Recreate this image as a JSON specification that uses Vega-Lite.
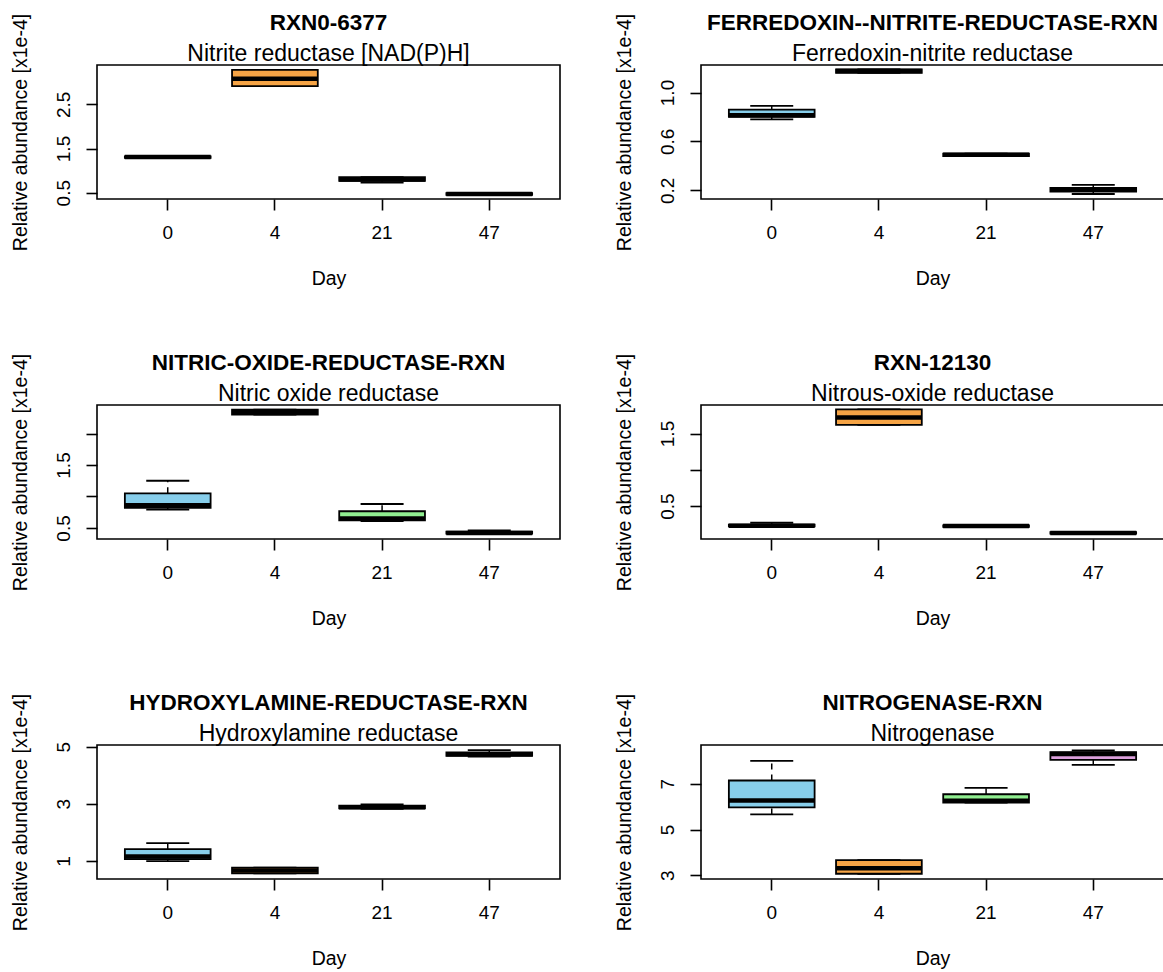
{
  "$schema": "https://vega.github.io/schema/vega-lite/v6.json",
  "background": "white",
  "padding": {"left": 9, "top": 10, "right": 0, "bottom": 0},
  "columns": 2,
  "spacing": {"row": 61, "column": 52},
  "config": {
    "font": "Liberation Sans",
    "view": {"stroke": "black", "strokeWidth": 1.6},
    "axis": {
      "domain": false, "grid": false, "ticks": true, "tickColor": "black", "tickWidth": 1.6, "tickSize": 11,
      "labelFont": "Liberation Sans", "labelFontSize": 19, "labelColor": "black", "labelOverlap": false, "labelBound": false,
      "titleFont": "Liberation Sans", "titleFontSize": 19.5, "titleFontWeight": "normal", "titleColor": "black"
    },
    "axisX": {"labelAngle": 0, "labelPadding": 13, "titlePadding": 27},
    "axisY": {"labelAngle": -90, "labelPadding": 13, "titlePadding": 24},
    "title": {"font": "Liberation Sans", "fontSize": 22.5, "fontWeight": "bold", "color": "black", "subtitleFont": "Liberation Sans", "subtitleFontSize": 23, "subtitleColor": "black", "anchor": "middle", "frame": "group", "offset": -53, "subtitlePadding": 9}
  },
  "data": {"values": [
    {"panel": "A", "day": 0, "lower": 1.28, "q1": 1.29, "median": 1.305, "q3": 1.32, "upper": 1.33},
    {"panel": "A", "day": 4, "lower": 2.91, "q1": 2.91, "median": 3.08, "q3": 3.28, "upper": 3.28},
    {"panel": "A", "day": 21, "lower": 0.73, "q1": 0.77, "median": 0.80, "q3": 0.85, "upper": 0.85},
    {"panel": "A", "day": 47, "lower": 0.45, "q1": 0.45, "median": 0.47, "q3": 0.49, "upper": 0.49},
    {"panel": "B", "day": 0, "lower": 0.78, "q1": 0.80, "median": 0.815, "q3": 0.86, "upper": 0.89},
    {"panel": "B", "day": 4, "lower": 1.16, "q1": 1.16, "median": 1.175, "q3": 1.19, "upper": 1.19},
    {"panel": "B", "day": 21, "lower": 0.48, "q1": 0.48, "median": 0.49, "q3": 0.50, "upper": 0.50},
    {"panel": "B", "day": 47, "lower": 0.17, "q1": 0.19, "median": 0.205, "q3": 0.22, "upper": 0.245},
    {"panel": "C", "day": 0, "lower": 0.79, "q1": 0.82, "median": 0.86, "q3": 1.05, "upper": 1.25},
    {"panel": "C", "day": 4, "lower": 2.30, "q1": 2.30, "median": 2.34, "q3": 2.38, "upper": 2.38},
    {"panel": "C", "day": 21, "lower": 0.61, "q1": 0.62, "median": 0.65, "q3": 0.765, "upper": 0.88},
    {"panel": "C", "day": 47, "lower": 0.40, "q1": 0.41, "median": 0.42, "q3": 0.44, "upper": 0.46},
    {"panel": "D", "day": 0, "lower": 0.21, "q1": 0.22, "median": 0.23, "q3": 0.245, "upper": 0.27},
    {"panel": "D", "day": 4, "lower": 1.62, "q1": 1.62, "median": 1.72, "q3": 1.833, "upper": 1.833},
    {"panel": "D", "day": 21, "lower": 0.21, "q1": 0.215, "median": 0.225, "q3": 0.235, "upper": 0.235},
    {"panel": "D", "day": 47, "lower": 0.115, "q1": 0.12, "median": 0.13, "q3": 0.14, "upper": 0.14},
    {"panel": "E", "day": 0, "lower": 0.99, "q1": 1.06, "median": 1.155, "q3": 1.41, "upper": 1.62},
    {"panel": "E", "day": 4, "lower": 0.56, "q1": 0.56, "median": 0.66, "q3": 0.76, "upper": 0.76},
    {"panel": "E", "day": 21, "lower": 2.82, "q1": 2.84, "median": 2.88, "q3": 2.93, "upper": 2.98},
    {"panel": "E", "day": 47, "lower": 4.65, "q1": 4.68, "median": 4.73, "q3": 4.80, "upper": 4.88},
    {"panel": "F", "day": 0, "lower": 5.66, "q1": 5.97, "median": 6.27, "q3": 7.14, "upper": 8.0},
    {"panel": "F", "day": 4, "lower": 3.07, "q1": 3.07, "median": 3.31, "q3": 3.66, "upper": 3.66},
    {"panel": "F", "day": 21, "lower": 6.17, "q1": 6.17, "median": 6.26, "q3": 6.54, "upper": 6.82},
    {"panel": "F", "day": 47, "lower": 7.82, "q1": 8.04, "median": 8.30, "q3": 8.38, "upper": 8.45}
  ]},
  "concat": [
    {
      "width": 463, "height": 134,
      "title": {"text": "RXN0-6377", "subtitle": "Nitrite reductase [NAD(P)H]"},
      "transform": [{"filter": "datum.panel == 'A'"}],
      "encoding": {
        "x": {"field": "day", "type": "ordinal", "scale": {"paddingInner": 0.2, "paddingOuter": 0.26}, "axis": {"title": "Day"}}
      },
      "layer": [
        {"mark": {"type": "rule", "color": "black", "strokeWidth": 1.5, "strokeDash": [6, 5]}, "encoding": {"y": {"field": "q3", "type": "quantitative", "scale": {"domain": [0.357, 3.39], "nice": false, "zero": false}, "axis": {"title": "Relative abundance [x1e-4]", "values": [0.5, 1, 1.5, 2, 2.5, 3], "format": ".1f", "labelExpr": "indexof([0.5, 1.5, 2.5], datum.value) >= 0 ? datum.label : ''"}}, "y2": {"field": "upper"}}},
        {"mark": {"type": "rule", "color": "black", "strokeWidth": 1.5, "strokeDash": [6, 5]}, "encoding": {"y": {"field": "lower", "type": "quantitative"}, "y2": {"field": "q1"}}},
        {"mark": {"type": "tick", "color": "black", "thickness": 1.8, "size": 43, "opacity": 1}, "encoding": {"y": {"field": "upper", "type": "quantitative"}}},
        {"mark": {"type": "tick", "color": "black", "thickness": 1.8, "size": 43, "opacity": 1}, "encoding": {"y": {"field": "lower", "type": "quantitative"}}},
        {"mark": {"type": "bar", "stroke": "black", "strokeWidth": 1.8, "opacity": 1}, "encoding": {"y": {"field": "q1", "type": "quantitative"}, "y2": {"field": "q3"}, "color": {"field": "day", "type": "nominal", "scale": {"domain": [0, 4, 21, 47], "range": ["#87CEEB", "#F6A445", "#90EE90", "#DDA0DD"]}, "legend": null}}},
        {"mark": {"type": "tick", "color": "black", "thickness": 4.5, "size": 86, "opacity": 1}, "encoding": {"y": {"field": "median", "type": "quantitative"}}}
      ]
    },
    {
      "width": 463, "height": 134,
      "title": {"text": "FERREDOXIN--NITRITE-REDUCTASE-RXN", "subtitle": "Ferredoxin-nitrite reductase"},
      "transform": [{"filter": "datum.panel == 'B'"}],
      "encoding": {
        "x": {"field": "day", "type": "ordinal", "scale": {"paddingInner": 0.2, "paddingOuter": 0.26}, "axis": {"title": "Day"}}
      },
      "layer": [
        {"mark": {"type": "rule", "color": "black", "strokeWidth": 1.5, "strokeDash": [6, 5]}, "encoding": {"y": {"field": "q3", "type": "quantitative", "scale": {"domain": [0.129, 1.225], "nice": false, "zero": false}, "axis": {"title": "Relative abundance [x1e-4]", "values": [0.2, 0.4, 0.6, 0.8, 1.0, 1.2], "format": ".1f", "labelExpr": "indexof([0.2, 0.6, 1.0], datum.value) >= 0 ? datum.label : ''"}}, "y2": {"field": "upper"}}},
        {"mark": {"type": "rule", "color": "black", "strokeWidth": 1.5, "strokeDash": [6, 5]}, "encoding": {"y": {"field": "lower", "type": "quantitative"}, "y2": {"field": "q1"}}},
        {"mark": {"type": "tick", "color": "black", "thickness": 1.8, "size": 43, "opacity": 1}, "encoding": {"y": {"field": "upper", "type": "quantitative"}}},
        {"mark": {"type": "tick", "color": "black", "thickness": 1.8, "size": 43, "opacity": 1}, "encoding": {"y": {"field": "lower", "type": "quantitative"}}},
        {"mark": {"type": "bar", "stroke": "black", "strokeWidth": 1.8, "opacity": 1}, "encoding": {"y": {"field": "q1", "type": "quantitative"}, "y2": {"field": "q3"}, "color": {"field": "day", "type": "nominal", "scale": {"domain": [0, 4, 21, 47], "range": ["#87CEEB", "#F6A445", "#90EE90", "#DDA0DD"]}, "legend": null}}},
        {"mark": {"type": "tick", "color": "black", "thickness": 4.5, "size": 86, "opacity": 1}, "encoding": {"y": {"field": "median", "type": "quantitative"}}}
      ]
    },
    {
      "width": 463, "height": 134,
      "title": {"text": "NITRIC-OXIDE-REDUCTASE-RXN", "subtitle": "Nitric oxide reductase"},
      "transform": [{"filter": "datum.panel == 'C'"}],
      "encoding": {
        "x": {"field": "day", "type": "ordinal", "scale": {"paddingInner": 0.2, "paddingOuter": 0.26}, "axis": {"title": "Day"}}
      },
      "layer": [
        {"mark": {"type": "rule", "color": "black", "strokeWidth": 1.5, "strokeDash": [6, 5]}, "encoding": {"y": {"field": "q3", "type": "quantitative", "scale": {"domain": [0.324, 2.454], "nice": false, "zero": false}, "axis": {"title": "Relative abundance [x1e-4]", "values": [0.5, 1, 1.5, 2], "format": ".1f", "labelExpr": "indexof([0.5, 1.5], datum.value) >= 0 ? datum.label : ''"}}, "y2": {"field": "upper"}}},
        {"mark": {"type": "rule", "color": "black", "strokeWidth": 1.5, "strokeDash": [6, 5]}, "encoding": {"y": {"field": "lower", "type": "quantitative"}, "y2": {"field": "q1"}}},
        {"mark": {"type": "tick", "color": "black", "thickness": 1.8, "size": 43, "opacity": 1}, "encoding": {"y": {"field": "upper", "type": "quantitative"}}},
        {"mark": {"type": "tick", "color": "black", "thickness": 1.8, "size": 43, "opacity": 1}, "encoding": {"y": {"field": "lower", "type": "quantitative"}}},
        {"mark": {"type": "bar", "stroke": "black", "strokeWidth": 1.8, "opacity": 1}, "encoding": {"y": {"field": "q1", "type": "quantitative"}, "y2": {"field": "q3"}, "color": {"field": "day", "type": "nominal", "scale": {"domain": [0, 4, 21, 47], "range": ["#87CEEB", "#F6A445", "#90EE90", "#DDA0DD"]}, "legend": null}}},
        {"mark": {"type": "tick", "color": "black", "thickness": 4.5, "size": 86, "opacity": 1}, "encoding": {"y": {"field": "median", "type": "quantitative"}}}
      ]
    },
    {
      "width": 463, "height": 134,
      "title": {"text": "RXN-12130", "subtitle": "Nitrous-oxide reductase"},
      "transform": [{"filter": "datum.panel == 'D'"}],
      "encoding": {
        "x": {"field": "day", "type": "ordinal", "scale": {"paddingInner": 0.2, "paddingOuter": 0.26}, "axis": {"title": "Day"}}
      },
      "layer": [
        {"mark": {"type": "rule", "color": "black", "strokeWidth": 1.5, "strokeDash": [6, 5]}, "encoding": {"y": {"field": "q3", "type": "quantitative", "scale": {"domain": [0.046, 1.893], "nice": false, "zero": false}, "axis": {"title": "Relative abundance [x1e-4]", "values": [0.5, 1, 1.5], "format": ".1f", "labelExpr": "indexof([0.5, 1.5], datum.value) >= 0 ? datum.label : ''"}}, "y2": {"field": "upper"}}},
        {"mark": {"type": "rule", "color": "black", "strokeWidth": 1.5, "strokeDash": [6, 5]}, "encoding": {"y": {"field": "lower", "type": "quantitative"}, "y2": {"field": "q1"}}},
        {"mark": {"type": "tick", "color": "black", "thickness": 1.8, "size": 43, "opacity": 1}, "encoding": {"y": {"field": "upper", "type": "quantitative"}}},
        {"mark": {"type": "tick", "color": "black", "thickness": 1.8, "size": 43, "opacity": 1}, "encoding": {"y": {"field": "lower", "type": "quantitative"}}},
        {"mark": {"type": "bar", "stroke": "black", "strokeWidth": 1.8, "opacity": 1}, "encoding": {"y": {"field": "q1", "type": "quantitative"}, "y2": {"field": "q3"}, "color": {"field": "day", "type": "nominal", "scale": {"domain": [0, 4, 21, 47], "range": ["#87CEEB", "#F6A445", "#90EE90", "#DDA0DD"]}, "legend": null}}},
        {"mark": {"type": "tick", "color": "black", "thickness": 4.5, "size": 86, "opacity": 1}, "encoding": {"y": {"field": "median", "type": "quantitative"}}}
      ]
    },
    {
      "width": 463, "height": 134,
      "title": {"text": "HYDROXYLAMINE-REDUCTASE-RXN", "subtitle": "Hydroxylamine reductase"},
      "transform": [{"filter": "datum.panel == 'E'"}],
      "encoding": {
        "x": {"field": "day", "type": "ordinal", "scale": {"paddingInner": 0.2, "paddingOuter": 0.26}, "axis": {"title": "Day"}}
      },
      "layer": [
        {"mark": {"type": "rule", "color": "black", "strokeWidth": 1.5, "strokeDash": [6, 5]}, "encoding": {"y": {"field": "q3", "type": "quantitative", "scale": {"domain": [0.365, 5.056], "nice": false, "zero": false}, "axis": {"title": "Relative abundance [x1e-4]", "values": [1, 2, 3, 4, 5], "format": "d"}}, "y2": {"field": "upper"}}},
        {"mark": {"type": "rule", "color": "black", "strokeWidth": 1.5, "strokeDash": [6, 5]}, "encoding": {"y": {"field": "lower", "type": "quantitative"}, "y2": {"field": "q1"}}},
        {"mark": {"type": "tick", "color": "black", "thickness": 1.8, "size": 43, "opacity": 1}, "encoding": {"y": {"field": "upper", "type": "quantitative"}}},
        {"mark": {"type": "tick", "color": "black", "thickness": 1.8, "size": 43, "opacity": 1}, "encoding": {"y": {"field": "lower", "type": "quantitative"}}},
        {"mark": {"type": "bar", "stroke": "black", "strokeWidth": 1.8, "opacity": 1}, "encoding": {"y": {"field": "q1", "type": "quantitative"}, "y2": {"field": "q3"}, "color": {"field": "day", "type": "nominal", "scale": {"domain": [0, 4, 21, 47], "range": ["#87CEEB", "#F6A445", "#90EE90", "#DDA0DD"]}, "legend": null}}},
        {"mark": {"type": "tick", "color": "black", "thickness": 4.5, "size": 86, "opacity": 1}, "encoding": {"y": {"field": "median", "type": "quantitative"}}}
      ]
    },
    {
      "width": 463, "height": 134,
      "title": {"text": "NITROGENASE-RXN", "subtitle": "Nitrogenase"},
      "transform": [{"filter": "datum.panel == 'F'"}],
      "encoding": {
        "x": {"field": "day", "type": "ordinal", "scale": {"paddingInner": 0.2, "paddingOuter": 0.26}, "axis": {"title": "Day"}}
      },
      "layer": [
        {"mark": {"type": "rule", "color": "black", "strokeWidth": 1.5, "strokeDash": [6, 5]}, "encoding": {"y": {"field": "q3", "type": "quantitative", "scale": {"domain": [2.84, 8.69], "nice": false, "zero": false}, "axis": {"title": "Relative abundance [x1e-4]", "values": [3, 4, 5, 6, 7, 8], "format": "d", "labelExpr": "indexof([3, 5, 7], datum.value) >= 0 ? datum.label : ''"}}, "y2": {"field": "upper"}}},
        {"mark": {"type": "rule", "color": "black", "strokeWidth": 1.5, "strokeDash": [6, 5]}, "encoding": {"y": {"field": "lower", "type": "quantitative"}, "y2": {"field": "q1"}}},
        {"mark": {"type": "tick", "color": "black", "thickness": 1.8, "size": 43, "opacity": 1}, "encoding": {"y": {"field": "upper", "type": "quantitative"}}},
        {"mark": {"type": "tick", "color": "black", "thickness": 1.8, "size": 43, "opacity": 1}, "encoding": {"y": {"field": "lower", "type": "quantitative"}}},
        {"mark": {"type": "bar", "stroke": "black", "strokeWidth": 1.8, "opacity": 1}, "encoding": {"y": {"field": "q1", "type": "quantitative"}, "y2": {"field": "q3"}, "color": {"field": "day", "type": "nominal", "scale": {"domain": [0, 4, 21, 47], "range": ["#87CEEB", "#F6A445", "#90EE90", "#DDA0DD"]}, "legend": null}}},
        {"mark": {"type": "tick", "color": "black", "thickness": 4.5, "size": 86, "opacity": 1}, "encoding": {"y": {"field": "median", "type": "quantitative"}}}
      ]
    }
  ]
}
